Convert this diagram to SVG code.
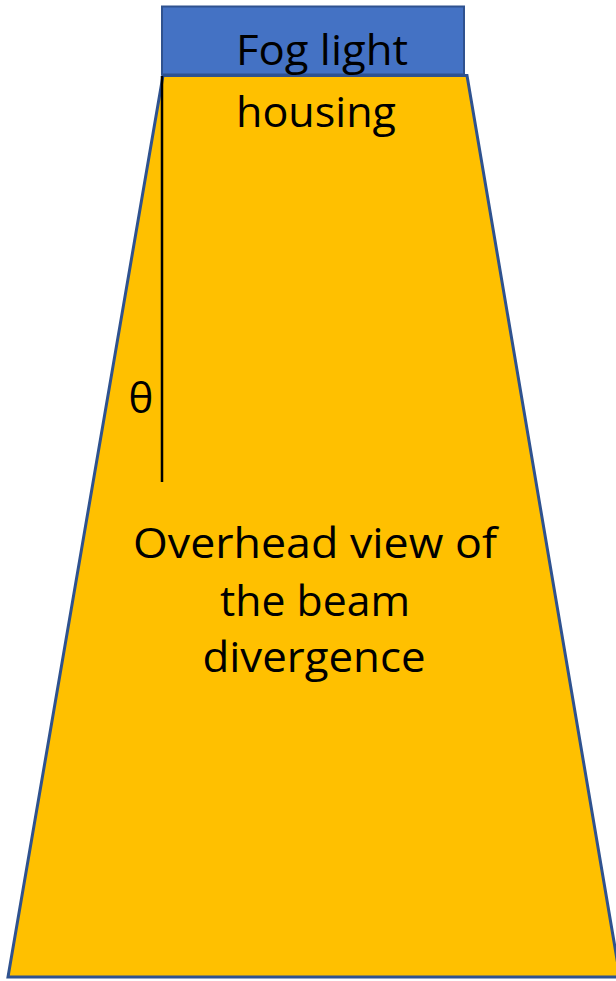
<svg xmlns="http://www.w3.org/2000/svg" width="616" height="981" viewBox="0 0 616 981">
<style>
.t{font-family:"Open Sans","Noto Sans","Liberation Sans",sans-serif;font-size:42px;fill:#000;text-anchor:middle}
</style>
<rect width="616" height="981" fill="#fff"/>
<g id="beam">
<polygon points="163,75.5 467,75.5 620,977 8,977" fill="#FFC000" stroke="#2F528F" stroke-width="3"/>
</g>
<g id="housing">
<rect x="162" y="6.5" width="302" height="68" fill="#4472C4" stroke="#2F528F" stroke-width="2"/>
</g>
<g id="connectors">
<line x1="162" y1="76" x2="162" y2="482" stroke="#000" stroke-width="2.5"/>
</g>
<g id="labels">
<text class="t" x="322" y="65" textLength="172" lengthAdjust="spacingAndGlyphs">Fog light</text>
<text class="t" x="316" y="127" textLength="160" lengthAdjust="spacingAndGlyphs">housing</text>
<text class="t" x="141" y="413">θ</text>
<text class="t" x="315" y="558" textLength="364" lengthAdjust="spacingAndGlyphs">Overhead view of</text>
<text class="t" x="315" y="616" textLength="190" lengthAdjust="spacingAndGlyphs">the beam</text>
<text class="t" x="314" y="672" textLength="223" lengthAdjust="spacingAndGlyphs">divergence</text>
</g>
</svg>
